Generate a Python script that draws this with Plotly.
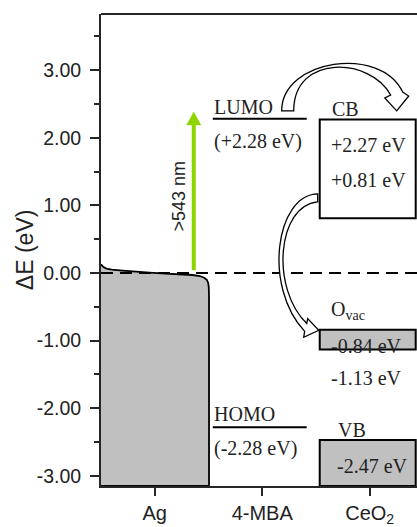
import plotly.graph_objects as go

# ---- data -------------------------------------------------------------
categories = ["Ag", "4-MBA", "CeO<sub>2</sub>"]
cat_pos = [1, 2, 3]

# Ag density-of-states style edge (x position, energy in eV)
ag_x = [0.5, 0.52, 0.55, 0.6, 0.7, 0.8, 0.95, 1.1, 1.25, 1.35, 1.42, 1.46,
        1.485, 1.498, 1.503, 1.505, 1.505]
ag_y = [0.13, 0.09, 0.065, 0.05, 0.035, 0.02, 0.005, -0.008, -0.02, -0.03,
        -0.045, -0.07, -0.1, -0.15, -0.22, -0.35, -3.15]

# 4-MBA molecular levels (eV)
lumo = 2.28
homo = -2.28

# CeO2 levels (eV)
cb_top, cb_bottom = 2.27, 0.81
ovac_top, ovac_bottom = -0.84, -1.13
vb_top = -2.47

# excitation arrow (eV)
excite_x = 1.363
excite_from, excite_to = 0.04, 2.38

y_ticks = [-3, -2, -1, 0, 1, 2, 3]
y_ticktext = [f"{v:.2f}" for v in y_ticks]
y_range = [-3.15, 3.83]
x_range = [0.5, 3.44]

# ---- styles -------------------------------------------------------------
axis_col = "#262626"
text_col = "#222222"
serif = "Liberation Serif"
sans = "Liberation Sans"
gray = "#C0C0C0"
green = "#8FD400"

fig = go.Figure()

# Ag filled band
fig.add_trace(go.Scatter(
    x=ag_x + [0.5], y=ag_y + [y_range[0]],
    mode="lines", fill="toself", fillcolor=gray,
    line=dict(color="black", width=1.8), hoverinfo="skip", showlegend=False,
))

shapes = []

# Fermi level reference
shapes.append(dict(type="line", xref="paper", x0=0, x1=1, yref="y", y0=0, y1=0,
                   line=dict(color="black", width=2, dash="12px,7px")))

# 4-MBA levels
lvl_x0, lvl_x1 = 1.54, 2.414
for lv in (lumo, homo):
    shapes.append(dict(type="line", x0=lvl_x0, x1=lvl_x1, y0=lv, y1=lv,
                       line=dict(color="black", width=2)))

# CeO2 boxes
box_x0, box_x1 = 2.535, 3.428
shapes.append(dict(type="rect", x0=box_x0, x1=box_x1, y0=cb_bottom, y1=cb_top,
                   fillcolor="white", line=dict(color="black", width=2)))
shapes.append(dict(type="rect", x0=box_x0, x1=box_x1, y0=ovac_bottom, y1=ovac_top,
                   fillcolor=gray, line=dict(color="black", width=2)))
shapes.append(dict(type="rect", x0=box_x0, x1=box_x1, y0=y_range[0], y1=vb_top,
                   fillcolor=gray, line=dict(color="black", width=2)))

# hollow transfer arrows (LUMO -> CB, CB -> Ovac)
arrow_lumo_cb = ("M2.181,2.398 C2.181,3.158 3.102,3.377 3.307,2.675 "
                 "L3.363,2.617 L3.251,2.398 L3.140,2.588 L3.195,2.632 "
                 "C3.009,3.187 2.293,3.246 2.293,2.398 Z")
arrow_cb_ovac = ("M2.516,1.170 C2.126,1.155 2.005,-0.205 2.395,-0.863 "
                 "L2.386,-0.950 L2.526,-0.848 L2.423,-0.673 L2.414,-0.746 "
                 "C2.079,-0.234 2.135,0.994 2.516,1.053 Z")
for p in (arrow_lumo_cb, arrow_cb_ovac):
    shapes.append(dict(type="path", path=p, fillcolor="white",
                       line=dict(color="black", width=1.3)))

# excitation arrow: shaft + head
head_len = 0.19
head_half = 0.066
shapes.append(dict(type="line", x0=excite_x, x1=excite_x,
                   y0=excite_from, y1=excite_to - head_len + 0.02,
                   line=dict(color=green, width=4)))
shapes.append(dict(
    type="path",
    path=(f"M{excite_x - head_half},{excite_to - head_len} "
          f"L{excite_x + head_half},{excite_to - head_len} "
          f"L{excite_x},{excite_to} Z"),
    fillcolor=green, line=dict(color=green, width=0.5)))

# top frame line
shapes.append(dict(type="line", xref="paper", x0=0, x1=1, yref="paper", y0=1, y1=1,
                   line=dict(color=axis_col, width=2)))

fig.update_layout(shapes=shapes)

fig.add_annotation(x=1.222, y=1.14, text="&gt;543 nm", showarrow=False,
                   textangle=-90, font=dict(family=sans, size=18, color=text_col))

# y-axis title
fig.add_annotation(xref="paper", yref="paper", x=-0.24, y=0.5,
                   xanchor="center", yanchor="middle", text="ΔE (eV)",
                   showarrow=False, textangle=-90,
                   font=dict(family=sans, size=23, color=text_col))

# level labels
def label(x, y, text, anchor="left"):
    fig.add_annotation(x=x, y=y, text=text, showarrow=False, xanchor=anchor,
                       yanchor="middle",
                       font=dict(family=serif, size=20, color=text_col))

label(1.535, 2.45, "LUMO")
label(1.535, 1.95, f"(+{lumo:.2f} eV)")
label(1.535, -2.09, "HOMO")
label(1.535, -2.60, f"({homo:.2f} eV)")
label(2.63, 2.42, "CB")
label(2.62, 1.89, f"+{cb_top:.2f} eV")
label(2.62, 1.37, f"+{cb_bottom:.2f} eV")
label(2.62, -0.55, "O<sub>vac</sub>")
label(2.62, -1.08, f"{ovac_top:.2f} eV")
label(2.62, -1.55, f"{ovac_bottom:.2f} eV")
label(2.69, -2.32, "VB")
label(2.68, -2.85, f"{vb_top:.2f} eV")

fig.update_xaxes(
    range=x_range, tickvals=cat_pos, ticktext=categories,
    showline=True, linewidth=2, linecolor=axis_col,
    ticks="outside", ticklen=8, tickwidth=1.5, tickcolor=axis_col,
    tickfont=dict(family=sans, size=20, color=text_col),
    showgrid=False, zeroline=False,
)
fig.update_yaxes(
    range=y_range, tickvals=y_ticks, ticktext=y_ticktext,
    showline=True, linewidth=2, linecolor=axis_col,
    ticks="outside", ticklen=9, tickwidth=1.5, tickcolor=axis_col,
    ticklabelstandoff=5,
    minor=dict(dtick=0.5, tick0=0.5, ticks="outside", ticklen=5,
               tickwidth=1.5, tickcolor=axis_col),
    tickfont=dict(family=sans, size=19.5, color=text_col),
    showgrid=False, zeroline=False,
)
fig.update_layout(
    width=417, height=527,
    margin=dict(l=101, r=0, t=14, b=35),
    plot_bgcolor="white", paper_bgcolor="white",
    showlegend=False,
)

fig.write_html("out.html")
